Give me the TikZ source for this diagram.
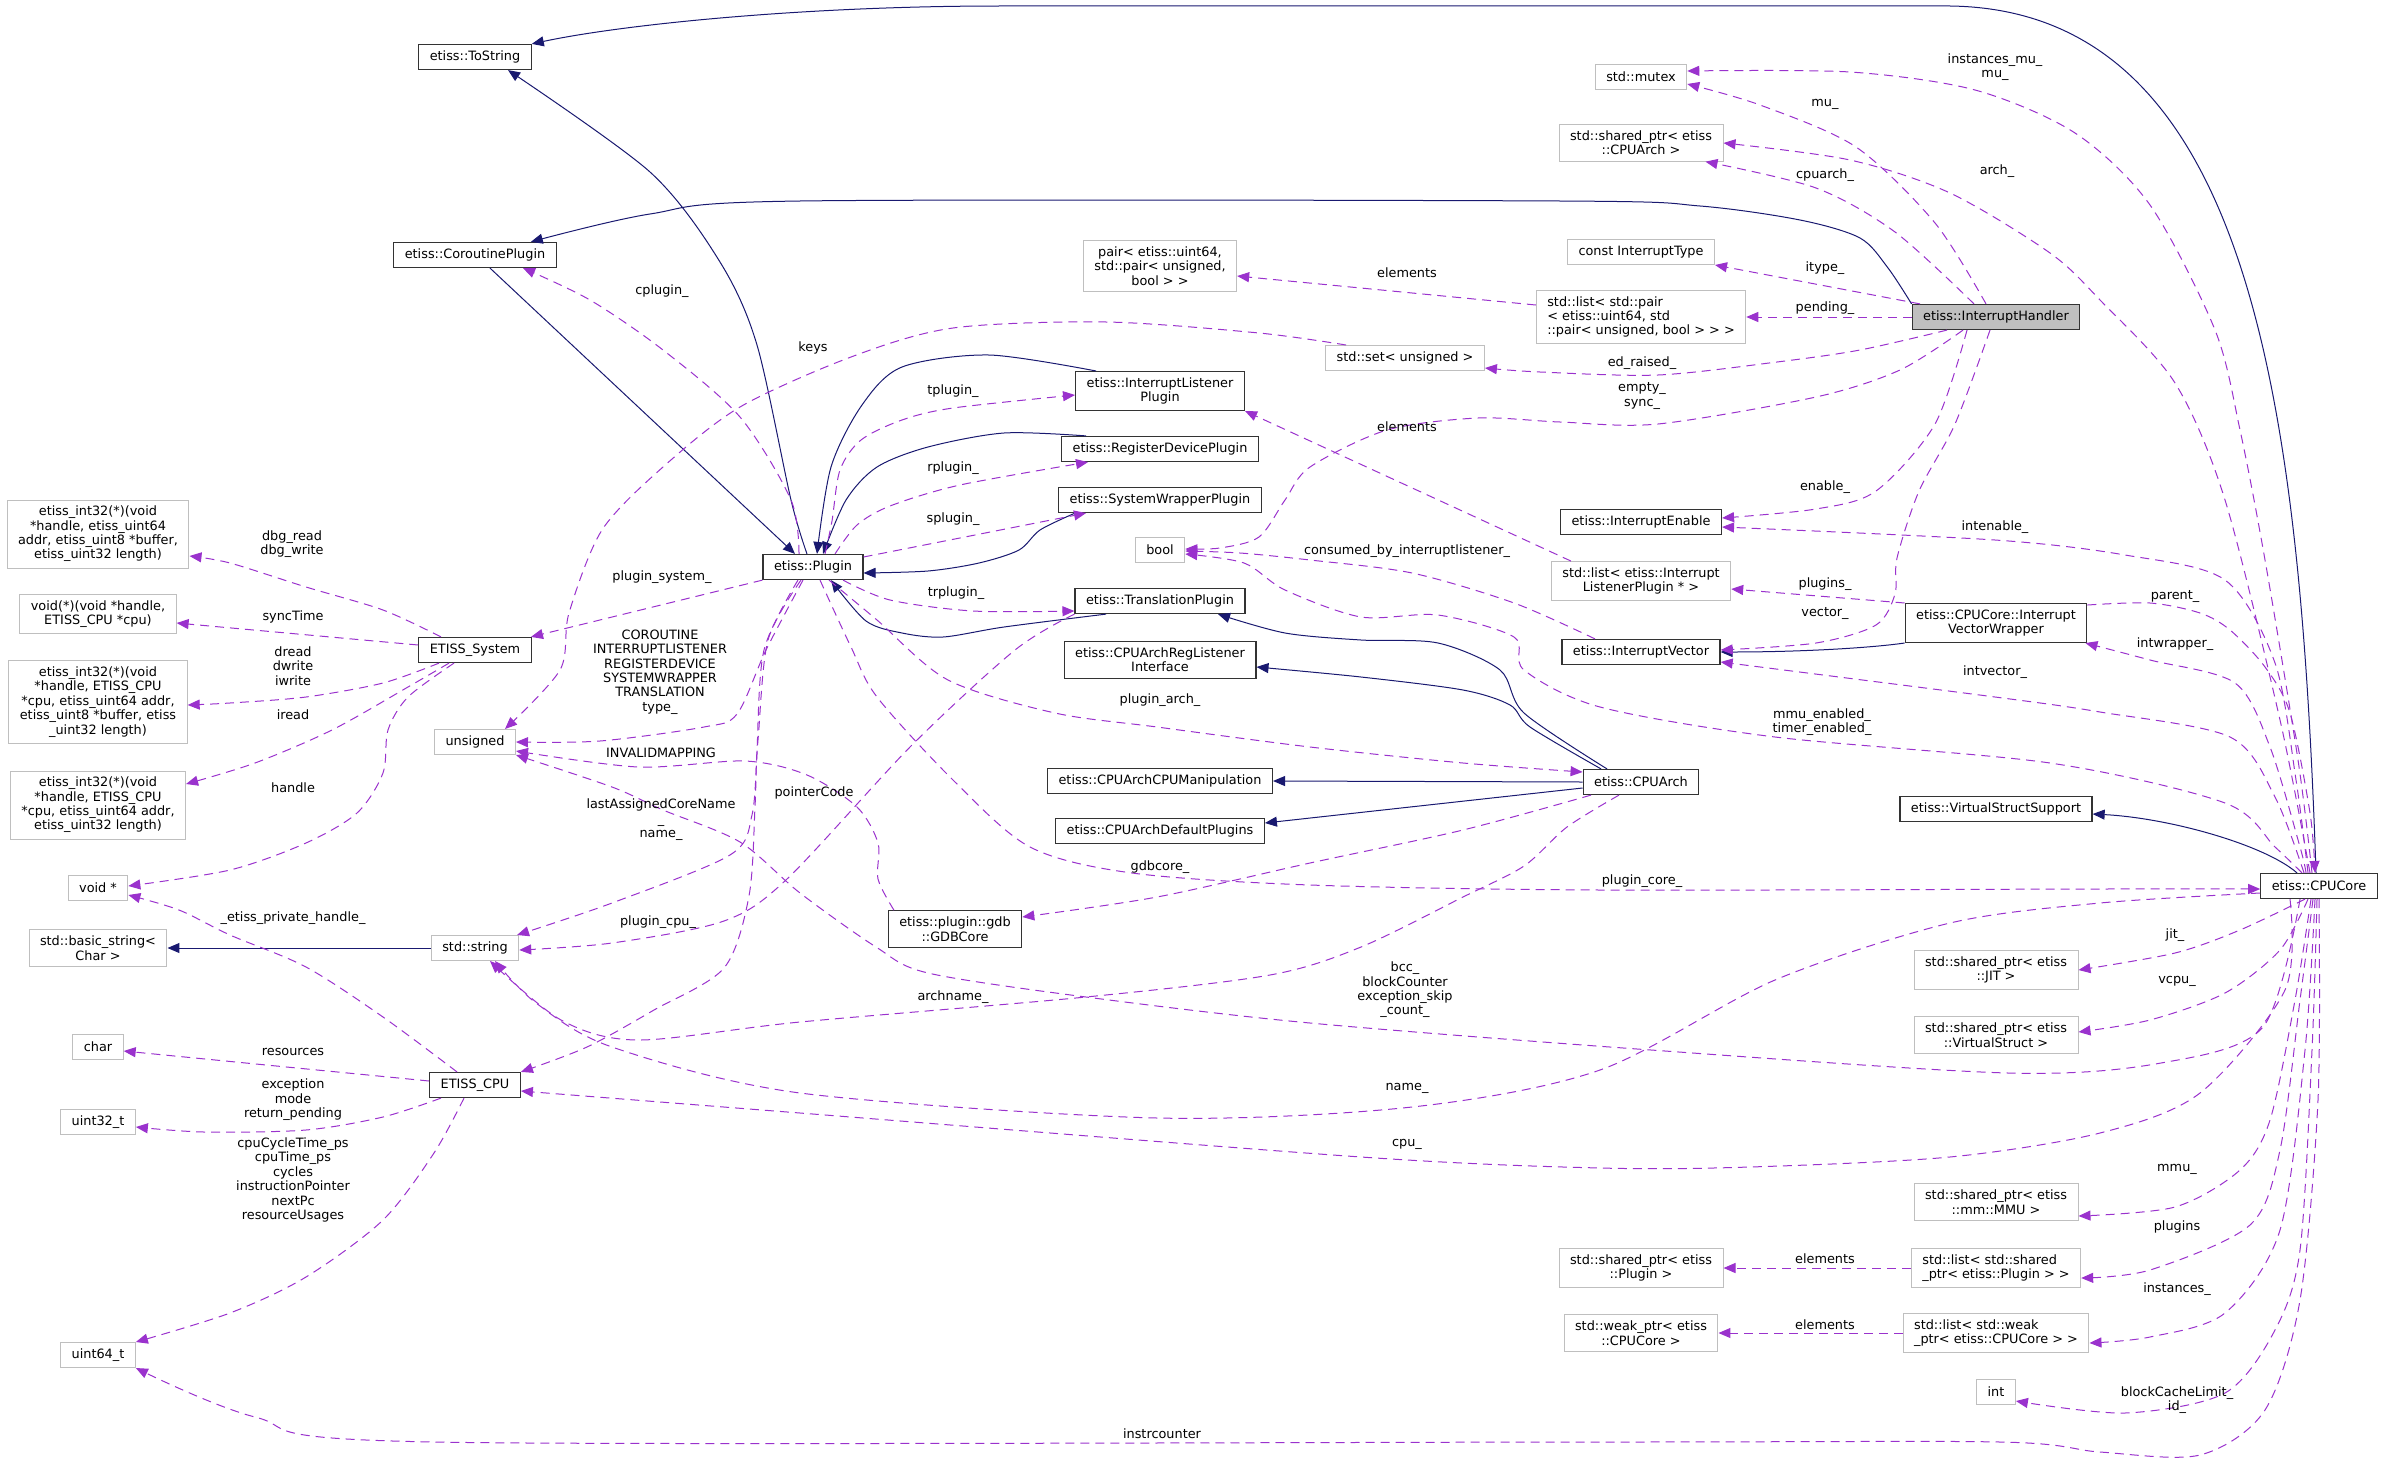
\documentclass[tikz,border=0pt]{standalone}
\usepackage{fontspec}
\setmainfont{DejaVu Sans}
\usetikzlibrary{positioning,arrows.meta}
\definecolor{inhblue}{RGB}{25,25,112}
\definecolor{usepurple}{RGB}{154,50,205}
\definecolor{extgray}{RGB}{191,191,191}
\newcommand{\gfont}{\fontsize{12.85}{14.4}\selectfont}
\tikzset{
  cls/.style={draw=black!80, line width=1.2pt, fill=white, align=center, inner xsep=11pt, inner ysep=6pt, minimum height=25pt, font=\gfont},
  ext/.style={cls, draw=extgray, line width=1pt},
  extl/.style={ext, align=left},
  cur/.style={cls, fill=extgray},
  lbl/.style={align=center, inner sep=0pt, font=\gfont},
  inh/.style={draw=inhblue, line width=1pt, -{Triangle[length=12pt,width=10pt]}},
  use/.style={draw=usepurple, line width=1pt, dash pattern=on 9pt off 6pt, -{Triangle[length=12pt,width=10pt]}}
}

\begin{document}
\begin{tikzpicture}[x=1pt,y=-1pt]
\useasboundingbox (0,0) rectangle (2384,1464);
% classes
\node (tostr) [cls] at (475,57) {etiss::ToString};
\node (corout) [cls] at (475,255) {etiss::CoroutinePlugin};
\node (sys) [cls] at (475,650) {ETISS\_System};
\node (unsg) [ext] at (475,742) {unsigned};
\node (str) [ext] at (475,948) {std::string};
\node (ecpu) [cls] at (475,1085) {ETISS\_CPU};
\node (plugin) [cls] at (813,567) {etiss::Plugin};
\node (gdb) [cls] at (955,929) {etiss::plugin::gdb\\::GDBCore};
\node (pairt) [ext] at (1160,266) {pair< etiss::uint64,\\std::pair< unsigned,\\bool > >};
\node (ilp) [cls] at (1160,391) {etiss::InterruptListener\\Plugin};
\node (rdp) [cls] at (1160,449) {etiss::RegisterDevicePlugin};
\node (swp) [cls] at (1160,500) {etiss::SystemWrapperPlugin};
\node (tbool) [ext] at (1160,550) {bool};
\node (trp) [cls] at (1160,601) {etiss::TranslationPlugin};
\node (rli) [cls] at (1160,660) {etiss::CPUArchRegListener\\Interface};
\node (cman) [cls] at (1160,781) {etiss::CPUArchCPUManipulation};
\node (cdef) [cls] at (1160,831) {etiss::CPUArchDefaultPlugins};
\node (sett) [ext] at (1405,358) {std::set< unsigned >};
\node (mutex) [ext] at (1641,77) {std::mutex};
\node (sparch) [ext] at (1641,143) {std::shared\_ptr< etiss\\::CPUArch >};
\node (itype) [ext] at (1641,252) {const InterruptType};
\node (lpair) [extl] at (1641,317) {std::list< std::pair\\< etiss::uint64, std\\::pair< unsigned, bool > > >};
\node (ienable) [cls] at (1641,522) {etiss::InterruptEnable};
\node (lilp) [ext] at (1641,581) {std::list< etiss::Interrupt\\ListenerPlugin * >};
\node (ivec) [cls] at (1641,652) {etiss::InterruptVector};
\node (arch) [cls] at (1641,782) {etiss::CPUArch};
\node (spplug) [ext] at (1641,1268) {std::shared\_ptr< etiss\\::Plugin >};
\node (wpcore) [ext] at (1641,1333) {std::weak\_ptr< etiss\\::CPUCore >};
\node (ihand) [cur] at (1996,317) {etiss::InterruptHandler};
\node (ivw) [cls] at (1996,623) {etiss::CPUCore::Interrupt\\VectorWrapper};
\node (vss) [cls] at (1996,809) {etiss::VirtualStructSupport};
\node (jit) [ext] at (1996,970) {std::shared\_ptr< etiss\\::JIT >};
\node (vstr) [ext] at (1996,1035) {std::shared\_ptr< etiss\\::VirtualStruct >};
\node (mmu) [ext] at (1996,1202) {std::shared\_ptr< etiss\\::mm::MMU >};
\node (lplug) [extl] at (1996,1268) {std::list< std::shared\\\_ptr< etiss::Plugin > >};
\node (lcore) [extl] at (1996,1333) {std::list< std::weak\\\_ptr< etiss::CPUCore > >};
\node (tint) [ext] at (1996,1392) {int};
\node (core) [cls] at (2319,886) {etiss::CPUCore};
% left column
\node (fdbg) [ext] at (98,534) {etiss\_int32(*)(void\\{}*handle, etiss\_uint64\\addr, etiss\_uint8 *buffer,\\etiss\_uint32 length)};
\node (fsync) [ext] at (98,614) {void(*)(void *handle,\\ETISS\_CPU *cpu)};
\node (fdrw) [ext] at (98,702) {etiss\_int32(*)(void\\{}*handle, ETISS\_CPU\\{}*cpu, etiss\_uint64 addr,\\etiss\_uint8 *buffer, etiss\\\_uint32 length)};
\node (fird) [ext] at (98,805) {etiss\_int32(*)(void\\{}*handle, ETISS\_CPU\\{}*cpu, etiss\_uint64 addr,\\etiss\_uint32 length)};
\node (voidp) [ext] at (98,888) {void *};
\node (bstr) [ext] at (98,948) {std::basic\_string<\\Char >};
\node (chart) [ext] at (98,1047) {char};
\node (u32) [ext] at (98,1122) {uint32\_t};
\node (u64) [ext] at (98,1355) {uint64\_t};

% inheritance
\draw[inh] ([xshift=-3pt]core.north) .. controls (2300,400) and (2250,10) .. (1950,6) -- (1000,6) .. controls (800,6) and (620,25) .. (tostr.north east);
\draw[inh] plot[smooth] coordinates {(ihand.north west) (1888,268) (1860,238) (1800,220) (1700,206) (1560,201) (800,201) (650,214) ([xshift=-26pt]corout.north east)};
\draw[inh] plot[smooth] coordinates {([xshift=-6pt]plugin.north) (791,500) (757,345) (720,262) (650,172) ([xshift=33pt]tostr.south)};
\draw[inh] ([xshift=15pt]corout.south) -- ([xshift=-18pt]plugin.north);
\draw[inh] plot[smooth] coordinates {([xshift=-64pt]ilp.north) (989,355) (902,367) (862,405) (831,467) ([xshift=4pt]plugin.north)};
\draw[inh] plot[smooth] coordinates {([xshift=-74pt]rdp.north) (1004,433) (928,447) (877,467) (846,500) ([xshift=10pt]plugin.north)};
\draw[inh] plot[smooth] coordinates {([xshift=-85pt]swp.south) (1040,530) (1019,550) (979,563) (928,571) ([yshift=-6pt]plugin.east)};
\draw[inh] plot[smooth] coordinates {([xshift=-54pt]trp.south) (1004,627) (943,637) (902,633) (866,621) ([xshift=18pt]plugin.south)};
\draw[inh] plot[smooth] coordinates {([xshift=-34pt]arch.north) (1524,713) (1500,670) (1438,643) (1361,640) (1285,633) ([xshift=58pt]trp.south)};
\draw[inh] plot[smooth] coordinates {([xshift=-40pt]arch.north) (1530,727) (1510,705) (1463,690) (1361,677) ([yshift=-7pt]rli.east)};
\draw[inh] (arch.west) -- (cman.east);
\draw[inh] ([yshift=-6pt]arch.west) -- ([yshift=8pt]cdef.east);
\draw[inh] (str.west) -- (bstr.east);
\draw[inh] (ivw.south west) .. controls (1870,648) and (1800,652) .. (ivec.east);
\draw[inh] ([xshift=-22pt]core.north) .. controls (2265,845) and (2170,818) .. ([yshift=-5pt]vss.east);

% usage
\draw[use] plot[smooth] coordinates {([xshift=-7pt]core.north) (2298,760) (2265,560) (2240,430) (2215,330) (2150,205) (2075,133) (1975,90) (1850,72) ([yshift=6pt]mutex.east)};
\draw[use] plot[smooth] coordinates {([xshift=-10pt]ihand.north) (1935,223) (1856,147) (1760,105) ([yshift=-7pt]mutex.east)};
\draw[use] plot[smooth] coordinates {([xshift=-9pt]core.north) (2280,720) (2225,500) (2175,383) (2100,300) (2050,253) (1950,193) (1850,160) (sparch.east)};
\draw[use] plot[smooth] coordinates {([xshift=-22pt]ihand.north) (1895,232) (1816,188) ([xshift=-18pt]sparch.south east)};
\draw[use] ([xshift=-76pt]ihand.north) -- (itype.south east);
\draw[use] (ihand.west) -- (lpair.east);
\draw[use] ([yshift=12pt]lpair.west) -- ([yshift=-10pt]pairt.east);
\draw[use] plot[smooth] coordinates {([xshift=-49pt]ihand.south) (1860,350) (1777,362) (1658,375) (1540,372) ([yshift=-10pt]sett.east)};
\draw[use] plot[smooth] coordinates {([xshift=-59pt]sett.north) (1259,333) (1106,322) (953,328) (851,357) (740,407) (663,467) (602,530) (569,613) (560,670) ([xshift=30pt]unsg.north)};
\draw[use] plot[smooth] coordinates {([xshift=-33pt]ihand.south) (1900,370) (1816,397) (1658,424) (1560,422) (1478,418) (1387,430) (1310,467) (1285,500) (1259,537) (1220,548) ([yshift=1pt]tbool.east)};
\draw[use] ([xshift=-70pt]lilp.north) -- (ilp.south east);
\draw[use] plot[smooth] coordinates {([xshift=-46pt]ivec.north) (1514,603) (1412,573) (1310,560) (1240,553) ([yshift=-1pt]tbool.east)};
\draw[use] plot[smooth] coordinates {([xshift=-29pt]ihand.south) (1935,424) (1876,491) (1816,509) ([yshift=4pt]ienable.east)};
\draw[use] plot[smooth] coordinates {([xshift=-11pt]core.north) (2296,780) (2275,663) (2225,580) (2125,555) (1995,540) ([yshift=-5pt]ienable.east)};
\draw[use] (ivw.north west) -- ([yshift=-8pt]lilp.east);
\draw[use] plot[smooth] coordinates {([xshift=-6pt]ihand.south) (1955,424) (1919,491) (1897,558) (1895,594) (1876,625) (1816,643) ([yshift=2pt]ivec.east)};
\draw[use] plot[smooth] coordinates {([yshift=18pt]ivw.east) (2150,603) (2200,613) (2230,630) (2265,667) (2290,713) (2310,813) ([xshift=-4pt]core.north)};
\draw[use] plot[smooth] coordinates {([xshift=-13pt]core.north) (2300,847) (2270,747) (2235,683) (2150,660) ([xshift=-2pt]ivw.south east)};
\draw[use] plot[smooth] coordinates {([xshift=-15pt]core.north) (2275,797) (2230,737) (2100,712) (1995,697) ([yshift=-10pt]ivec.east)};
\draw[use] plot[smooth] coordinates {([xshift=-17pt]core.north) (2275,847) (2225,803) (2050,763) (1775,737) (1600,707) (1524,670) (1514,637) (1438,615) (1361,617) (1285,590) (1244,563) ([yshift=-4pt]tbool.east)};
\draw[use] plot[smooth] coordinates {([xshift=16pt]plugin.south) (877,620) (948,680) (1055,713) (1157,727) (1310,747) (1463,763) ([yshift=10pt]arch.west)};
\draw[use] plot[smooth] coordinates {([xshift=7pt]plugin.south) (851,647) (877,697) (953,780) (1030,847) (1132,873) (1310,885) (1600,890) (2100,889) ([yshift=-3pt]core.west)};
\draw[use] plot[smooth] coordinates {([xshift=-50pt]arch.south) (1463,830) (1310,863) (1157,897) ([yshift=12pt]gdb.east)};
\draw[use] plot[smooth] coordinates {([xshift=-14pt]plugin.north) (791,500) (740,417) (663,350) (590,300) ([xshift=48pt]corout.south)};
\draw[use] plot[smooth] coordinates {([xshift=12pt]plugin.north) (832,521) (840,470) (861,440) (902,420) (953,408) ([yshift=-4pt]ilp.west)};
\draw[use] plot[smooth] coordinates {([xshift=22pt]plugin.north) (857,525) (890,506) (960,485) ([xshift=-72pt]rdp.south)};
\draw[use] ([yshift=10pt]plugin.east) -- ([xshift=-74pt]swp.south);
\draw[use] plot[smooth] coordinates {([xshift=30pt]plugin.south) (890,600) (973,611) ([yshift=-10pt]trp.west)};
\draw[use] (plugin.south west) -- ([xshift=56pt]sys.north);
\draw[use] plot[smooth] coordinates {([xshift=-10pt]plugin.south) (766,650) (737,714) (704,727) (600,741) (unsg.east)};
\draw[use] plot[smooth] coordinates {([xshift=-61pt]gdb.north) (878,879) (878,843) (857,807) (807,775) (745,761) (638,767) ([yshift=-9pt]unsg.east)};
\draw[use] plot[smooth] coordinates {([xshift=-19pt]core.south) (2263,1027) (2161,1063) (2008,1073) (1651,1050) (1310,1023) (1086,997) (928,973) (876,947) (800,893) (740,842) (663,810) (612,787) (unsg.south east)};
\draw[use] plot[smooth] coordinates {([xshift=-12pt]plugin.south) (768,640) (758,740) (752,815) (730,855) (612,903) ([xshift=42pt]str.north)};
\draw[use] plot[smooth] coordinates {([xshift=-15pt]plugin.south) (764,650) (757,750) (755,807) (749,896) (724,968) (654,1010) (587,1047) (ecpu.north east)};
\draw[use] plot[smooth] coordinates {(trp.south west) (1015,650) (911,746) (787,879) (724,921) (612,943) ([yshift=-2pt]str.east)};
\draw[use] plot[smooth] coordinates {([xshift=-22pt]arch.south) (1567,827) (1524,866) (1463,897) (1361,947) (1270,975) (1086,997) (800,1022) (638,1040) (561,1020) ([xshift=15pt]str.south)};
\draw[use] plot[smooth] coordinates {([yshift=-7pt]core.west) (2100,903) (1950,923) (1775,980) (1600,1070) (1412,1107) (1157,1118) (800,1093) (612,1047) (536,1003) ([xshift=20pt]str.south)};
\draw[use] plot[smooth] coordinates {([xshift=-29pt]core.south) (2285,990) (2200,1093) (2100,1133) (1950,1157) (1750,1167) (1600,1168) (1361,1157) (800,1113) ([yshift=-6pt]ecpu.east)};
\draw[use] plot[smooth] coordinates {([xshift=-14pt]core.south) (2240,930) (2175,953) (jit.east)};
\draw[use] plot[smooth] coordinates {([xshift=-11pt]core.south) (2280,950) (2225,993) (2150,1020) ([yshift=3pt]vstr.east)};
\draw[use] plot[smooth] coordinates {([xshift=-8pt]core.south) (2295,1000) (2270,1120) (2240,1170) (2175,1207) ([yshift=-14pt]mmu.east)};
\draw[use] plot[smooth] coordinates {([xshift=-6pt]core.south) (2300,1000) (2280,1150) (2250,1225) (2150,1270) ([yshift=-10pt]lplug.east)};
\draw[use] plot[smooth] coordinates {([xshift=-4pt]core.south) (2305,1050) (2280,1230) (2225,1313) (2150,1337) ([yshift=-10pt]lcore.east)};
\draw[use] plot[smooth] coordinates {([xshift=-2pt]core.south) (2312,1050) (2300,1250) (2275,1330) (2225,1393) (2125,1413) ([yshift=-9pt]tint.east)};
\draw[use] plot[smooth] coordinates {(core.south) (2318,1100) (2300,1300) (2265,1410) (2200,1455) (2100,1452) (2000,1442) (1600,1442) (434,1442) (255,1417) (u64.south east)};
\draw[use] (lplug.west) -- (spplug.east);
\draw[use] (lcore.west) -- (wpcore.east);
\draw[use] plot[smooth] coordinates {([xshift=-34pt]sys.north) (383,610) (306,587) (230,563) ([yshift=-22pt]fdbg.east)};
\draw[use] ([yshift=5pt]sys.west) -- ([yshift=-9pt]fsync.east);
\draw[use] plot[smooth] coordinates {([xshift=-36pt]sys.south) (383,683) (306,697) (230,703) ([yshift=-3pt]fdrw.east)};
\draw[use] plot[smooth] coordinates {([xshift=-26pt]sys.south) (408,687) (332,730) (255,763) ([yshift=21pt]fird.east)};
\draw[use] plot[smooth] coordinates {([xshift=-21pt]sys.south) (408,697) (388,730) (383,773) (357,813) (306,843) (230,870) ([yshift=2pt]voidp.east)};
\draw[use] plot[smooth] coordinates {([xshift=-18pt]ecpu.north) (383,1017) (306,967) (230,935) (179,910) ([yshift=-7pt]voidp.east)};
\draw[use] ([yshift=4pt]ecpu.west) -- ([yshift=-4pt]chart.east);
\draw[use] plot[smooth] coordinates {([xshift=-34pt]ecpu.south) (383,1117) (306,1130) (204,1132) ([yshift=-5pt]u32.east)};
\draw[use] plot[smooth] coordinates {([xshift=-11pt]ecpu.south) (434,1153) (383,1220) (306,1277) (230,1313) (u64.north east)};

% member labels
\node (lb1) [lbl] at (1995,67) {instances\_mu\_\\mu\_};
\node (lb2) [lbl] at (1825,104) {mu\_};
\node (lb3) [lbl] at (1997,171) {arch\_};
\node (lb4) [lbl] at (1825,175) {cpuarch\_};
\node (lb5) [lbl] at (1825,268) {itype\_};
\node (lb6) [lbl] at (1825,308) {pending\_};
\node (lb7) [lbl] at (1407,273) {elements};
\node (lb8) [lbl] at (1642,363) {ed\_raised\_};
\node (lb9) [lbl] at (813,348) {keys};
\node (lb10) [lbl] at (1642,396) {empty\_\\sync\_};
\node (lb11) [lbl] at (1407,427) {elements};
\node (lb12) [lbl] at (1407,551) {consumed\_by\_interruptlistener\_};
\node (lb13) [lbl] at (1825,487) {enable\_};
\node (lb14) [lbl] at (1995,527) {intenable\_};
\node (lb15) [lbl] at (1825,584) {plugins\_};
\node (lb16) [lbl] at (1825,613) {vector\_};
\node (lb17) [lbl] at (2175,596) {parent\_};
\node (lb18) [lbl] at (2175,644) {intwrapper\_};
\node (lb19) [lbl] at (1995,672) {intvector\_};
\node (lb20) [lbl] at (1822,722) {mmu\_enabled\_\\timer\_enabled\_};
\node (lb21) [lbl] at (1160,700) {plugin\_arch\_};
\node (lb22) [lbl] at (1642,881) {plugin\_core\_};
\node (lb23) [lbl] at (1160,867) {gdbcore\_};
\node (lb24) [lbl] at (662,291) {cplugin\_};
\node (lb25) [lbl] at (953,391) {tplugin\_};
\node (lb26) [lbl] at (953,468) {rplugin\_};
\node (lb27) [lbl] at (953,519) {splugin\_};
\node (lb28) [lbl] at (956,593) {trplugin\_};
\node (lb29) [lbl] at (662,577) {plugin\_system\_};
\node (lb30) [lbl] at (660,672) {COROUTINE\\INTERRUPTLISTENER\\REGISTERDEVICE\\SYSTEMWRAPPER\\TRANSLATION\\type\_};
\node (lb31) [lbl] at (661,753) {INVALIDMAPPING};
\node (lb32) [lbl] at (661,820) {lastAssignedCoreName\\\_\\name\_};
\node (lb33) [lbl] at (814,793) {pointerCode};
\node (lb34) [lbl] at (658,922) {plugin\_cpu\_};
\node (lb35) [lbl] at (953,997) {archname\_};
\node (lb36) [lbl] at (1405,990) {bcc\_\\blockCounter\\exception\_skip\\\_count\_};
\node (lb37) [lbl] at (1407,1088) {name\_};
\node (lb38) [lbl] at (1407,1144) {cpu\_};
\node (lb39) [lbl] at (1162,1434) {instrcounter};
\node (lb40) [lbl] at (2175,935) {jit\_};
\node (lb41) [lbl] at (2177,981) {vcpu\_};
\node (lb42) [lbl] at (2177,1169) {mmu\_};
\node (lb43) [lbl] at (2177,1227) {plugins};
\node (lb44) [lbl] at (2177,1289) {instances\_};
\node (lb45) [lbl] at (2177,1400) {blockCacheLimit\_\\id\_};
\node (lb46) [lbl] at (1825,1259) {elements};
\node (lb47) [lbl] at (1825,1325) {elements};
\node (lb48) [lbl] at (292,544) {dbg\_read\\dbg\_write};
\node (lb49) [lbl] at (293,617) {syncTime};
\node (lb50) [lbl] at (293,666) {dread\\dwrite\\iwrite};
\node (lb51) [lbl] at (293,715) {iread};
\node (lb52) [lbl] at (293,788) {handle};
\node (lb53) [lbl] at (293,918) {\_etiss\_private\_handle\_};
\node (lb54) [lbl] at (293,1052) {resources};
\node (lb55) [lbl] at (293,1100) {exception\\mode\\return\_pending};
\node (lb56) [lbl] at (293,1180) {cpuCycleTime\_ps\\cpuTime\_ps\\cycles\\instructionPointer\\nextPc\\resourceUsages};
\end{tikzpicture}
\end{document}
